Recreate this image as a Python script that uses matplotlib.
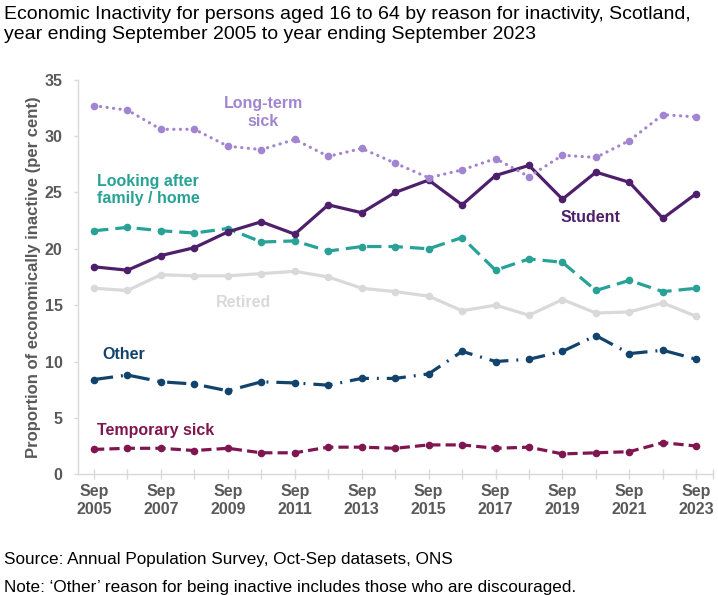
import numpy as np
import matplotlib.pyplot as plt

plt.rcParams['font.family'] = ['Liberation Sans', 'DejaVu Sans']

# Data (per cent of economically inactive, Scotland)
years = list(range(2005, 2024))
long_term_sick = [32.7, 32.3, 30.6, 30.6, 29.1, 28.8, 29.7, 28.2, 28.9, 27.6,
                  26.3, 27.0, 28.0, 26.4, 28.3, 28.1, 29.6, 31.9, 31.7]
student = [18.4, 18.1, 19.4, 20.1, 21.5, 22.4, 21.3, 23.9, 23.2, 25.0,
           26.1, 23.9, 26.5, 27.4, 24.4, 26.8, 25.9, 22.7, 24.9]
family_home = [21.6, 21.9, 21.6, 21.4, 21.8, 20.6, 20.7, 19.8, 20.2, 20.2,
               20.0, 21.0, 18.1, 19.1, 18.8, 16.3, 17.2, 16.2, 16.5]
retired = [16.5, 16.3, 17.7, 17.6, 17.6, 17.8, 18.0, 17.5, 16.5, 16.2,
           15.8, 14.5, 15.0, 14.1, 15.5, 14.3, 14.4, 15.2, 14.0]
other = [8.4, 8.8, 8.2, 8.0, 7.4, 8.2, 8.1, 7.9, 8.5, 8.5,
         8.9, 10.9, 10.0, 10.2, 10.9, 12.3, 10.7, 11.0, 10.2]
temp_sick = [2.2, 2.3, 2.3, 2.1, 2.3, 1.9, 1.9, 2.4, 2.4, 2.3,
             2.6, 2.6, 2.3, 2.4, 1.8, 1.9, 2.0, 2.8, 2.5]

tick_labels = ['Sep\n%d' % y if (y - 2005) % 2 == 0 else '' for y in years]

fig = plt.figure(figsize=(7.18, 5.95), dpi=100)
ax = fig.add_axes([0.1086, 0.203, 0.8845, 0.663])

x = np.arange(len(years))
lw = 2.3
ms = 5.5

def plot_line(vals, color, ls, cap='butt'):
    ax.plot(x, vals, color=color, linestyle=ls, linewidth=lw,
            marker='o', markersize=ms, markeredgewidth=0,
            dash_capstyle=cap)

plot_line(retired, '#d9d9d9', '-')
plot_line(temp_sick, '#801650', (0, (3.2, 1.6)))
plot_line(other, '#12436d', (0, (6, 2.5, 0.6, 2.5)))
plot_line(family_home, '#28a197', (0, (4.5, 2.2)))
plot_line(student, '#4e1f6b', '-')
plot_line(long_term_sick, '#a285d1', (0, (0.05, 2.0)), cap='round')

# Series labels
lab = dict(fontsize=11.5, fontweight='bold')
ax.text(5.05, 32.1, 'Long-term\nsick', color='#a285d1', ha='center', va='center', **lab)
ax.text(0.1, 25.2, 'Looking after\nfamily / home', color='#28a197', ha='left', va='center', **lab)
ax.text(14.83, 22.8, 'Student', color='#4e1f6b', ha='center', va='center', **lab)
ax.text(4.46, 15.2, 'Retired', color='#d9d9d9', ha='center', va='center', **lab)
ax.text(0.25, 10.66, 'Other', color='#12436d', ha='left', va='center', **lab)
ax.text(0.1, 3.9, 'Temporary sick', color='#801650', ha='left', va='center', **lab)

ax.set_xlim(-0.48, 18.5)
ax.set_ylim(0, 35)
ax.set_yticks(np.arange(0, 36, 5))
ax.set_xticks(list(x) + [18.5])
ax.set_xticklabels(tick_labels + [''])
ax.tick_params(axis='x', length=6.5, width=1, color='#d9d9d9', direction='inout', pad=4)
ax.tick_params(axis='y', length=3, width=1, color='#d9d9d9', direction='out', pad=8)
for lbl in ax.get_xticklabels() + ax.get_yticklabels():
    lbl.set_fontsize(11.5)
    lbl.set_fontweight('bold')
    lbl.set_color('#595959')

for side in ['top', 'right']:
    ax.spines[side].set_visible(False)
for side in ['bottom', 'left']:
    ax.spines[side].set_color('#d9d9d9')
    ax.spines[side].set_linewidth(1.0)

ax.set_ylabel('Proportion of economically inactive (per cent)', fontsize=12,
              fontweight='bold', color='#595959', labelpad=3)

fig.text(0.006, 0.99, 'Economic Inactivity for persons aged 16 to 64 by reason for inactivity, Scotland,\n'
         'year ending September 2005 to year ending September 2023',
         fontsize=14, ha='left', va='top', linespacing=1.2)
fig.text(0.006, 0.059, 'Source: Annual Population Survey, Oct-Sep datasets, ONS',
         fontsize=12.3, ha='left', va='center')
fig.text(0.006, 0.013, 'Note: \u2018Other\u2019 reason for being inactive includes those who are discouraged.',
         fontsize=12.3, ha='left', va='center')

fig.savefig('out.png', dpi=100)
